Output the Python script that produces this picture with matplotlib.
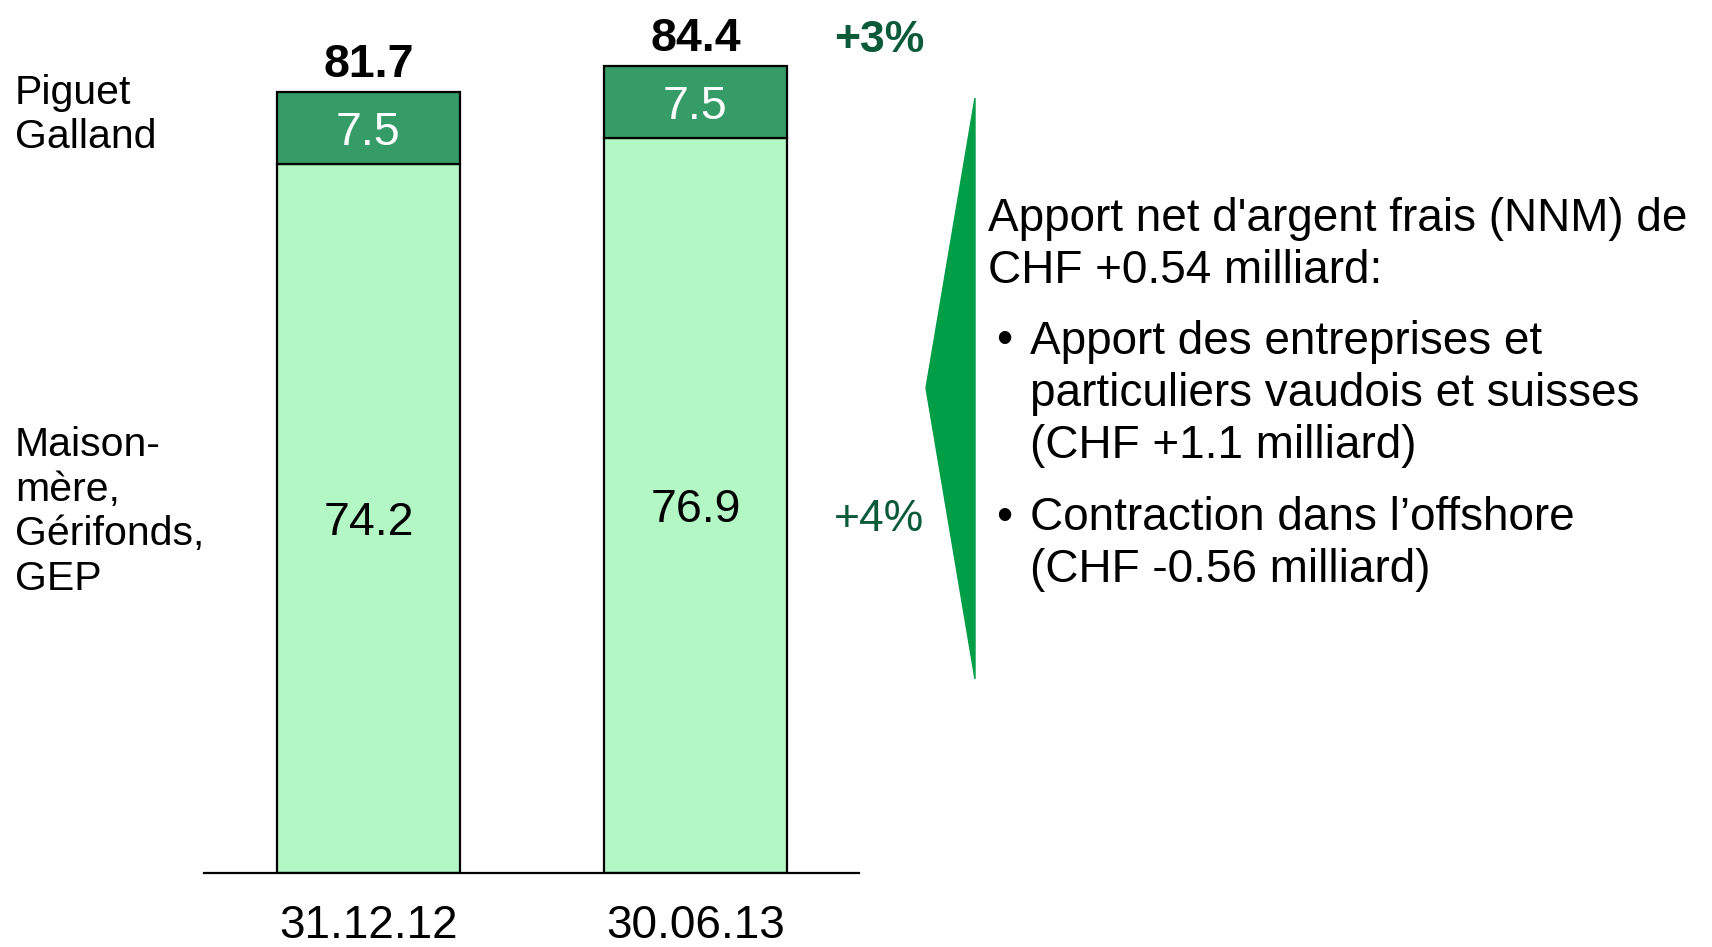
import matplotlib
matplotlib.use("Agg")
import matplotlib.pyplot as plt
from matplotlib.patches import Polygon

plt.rcParams['font.family'] = ['Liberation Sans', 'DejaVu Sans']

dates = ['31.12.12', '30.06.13']
maison_mere = [74.2, 76.9]
piguet_galland = [7.5, 7.5]
totals = [81.7, 84.4]
growth_total = '+3%'
growth_maison = '+4%'

light = '#b3f7c5'
dark = '#359b67'
tri_green = '#009e46'
txt_green = '#0b5a3a'

fig = plt.figure(figsize=(17.12, 9.47), dpi=100)
# axes placed so that the baseline and bars land like in the reference
ax = fig.add_axes([204 / 1712, 74 / 947, 655 / 1712, 873 / 947])
x = [0, 1]
w = 0.56
ax.bar(x, maison_mere, width=w, color=light, edgecolor='black', linewidth=1.6)
ax.bar(x, piguet_galland, width=w, bottom=maison_mere, color=dark,
       edgecolor='black', linewidth=1.6)
ax.set_xlim(-0.503, 1.5)
ax.set_ylim(0, 91.3)

for i in range(len(x)):
    ax.text(x[i], maison_mere[i] / 2, '%.1f' % maison_mere[i], ha='center',
            va='center_baseline', fontsize=33.5)
    ax.text(x[i], maison_mere[i] + piguet_galland[i] / 2, '%.1f' % piguet_galland[i],
            ha='center', va='center_baseline', fontsize=33.5, color='white')
    ax.text(x[i], totals[i] + 3.35, '%.1f' % totals[i], ha='center',
            va='center_baseline', fontsize=33.5, fontweight='bold')

for s in ['top', 'right', 'left']:
    ax.spines[s].set_visible(False)
ax.spines['bottom'].set_linewidth(1.6)
ax.set_yticks([])
ax.set_xticks(x)
ax.set_xticklabels(dates, fontsize=33)
ax.tick_params(axis='x', length=0, pad=22)

# left labels
fig.text(15 / 1712, 1 - 115 / 947, 'Piguet\nGalland', fontsize=29.5, va='center',
         ha='left', linespacing=1.2)
fig.text(15 / 1712, 1 - 512 / 947, 'Maison-\nmère,\nGérifonds,\nGEP', fontsize=29.5,
         va='center', ha='left', linespacing=1.23)

# growth labels
fig.text(879 / 1712, 1 - 36 / 947, growth_total, fontsize=32, fontweight='bold',
         color=txt_green, ha='center', va='center_baseline')
fig.text(879 / 1712, 1 - 515 / 947, growth_maison, fontsize=32, color=txt_green,
         ha='center', va='center_baseline')

# green arrow shape
tri = Polygon([(975 / 1712, 1 - 98 / 947), (926 / 1712, 1 - 388 / 947),
               (975 / 1712, 1 - 679 / 947)], closed=True, color=tri_green,
              transform=fig.transFigure)
fig.patches.append(tri)

# commentary
fs = 33
ls = 1.25
fig.text(988 / 1712, 1 - 245 / 947, "Apport net d'argent frais (NNM) de\nCHF +0.54 milliard:",
         fontsize=fs, ha='left', va='center', linespacing=ls)
fig.text(996 / 1712, 1 - 394 / 947, '•\n \n ', fontsize=fs, ha='left', va='center',
         linespacing=ls)
fig.text(1030 / 1712, 1 - 394 / 947,
         'Apport des entreprises et\nparticuliers vaudois et suisses\n(CHF +1.1 milliard)',
         fontsize=fs, ha='left', va='center', linespacing=ls)
fig.text(996 / 1712, 1 - 544 / 947, '•\n ', fontsize=fs, ha='left', va='center',
         linespacing=ls)
fig.text(1030 / 1712, 1 - 544 / 947, 'Contraction dans l’offshore\n(CHF -0.56 milliard)',
         fontsize=fs, ha='left', va='center', linespacing=ls)

fig.savefig('out.png', dpi=100)
